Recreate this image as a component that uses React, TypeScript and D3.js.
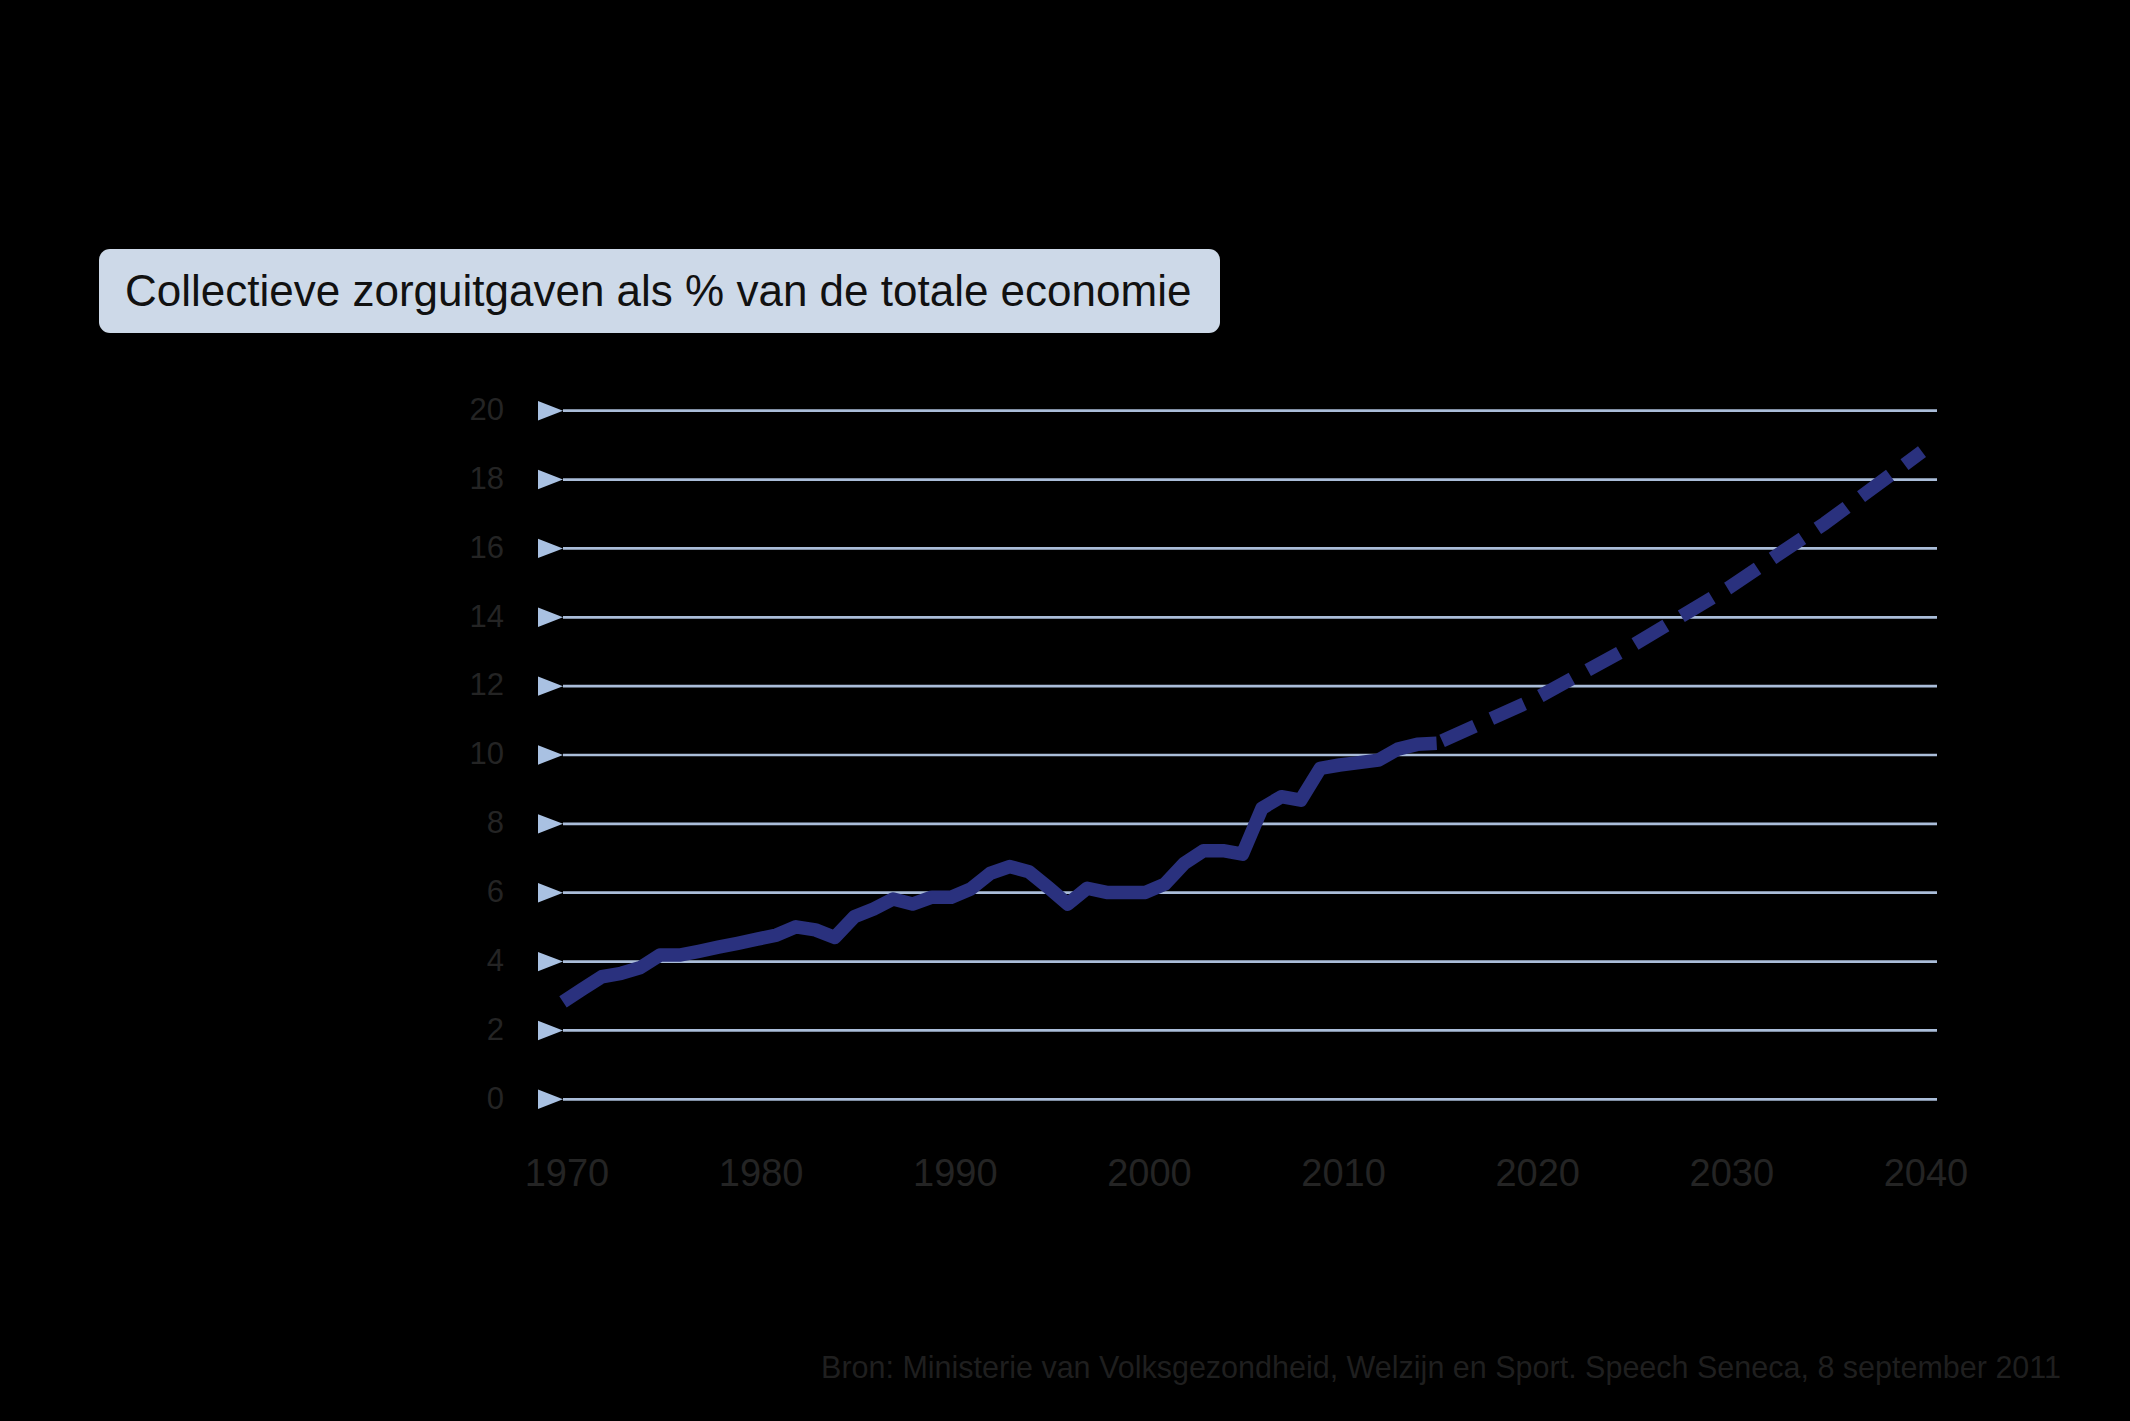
import React from "react";
import * as d3 from "d3";

const TITLE = "Collectieve zorguitgaven als % van de totale economie";
const SOURCE = "Bron: Ministerie van Volksgezondheid, Welzijn en Sport. Speech Seneca, 8 september 2011";

const histYears = [1970,1971,1972,1973,1974,1975,1976,1977,1978,1979,1980,1981,1982,1983,1984,1985,1986,1987,1988,1989,1990,1991,1992,1993,1994,1995,1996,1997,1998,1999,2000,2001,2002,2003,2004,2005,2006,2007,2008,2009,2010,2011,2012,2013,2014,2015];
const histValues = [2.83,3.2,3.56,3.66,3.83,4.19,4.19,4.3,4.42,4.53,4.65,4.77,5.01,4.92,4.7,5.3,5.53,5.82,5.67,5.87,5.87,6.11,6.56,6.76,6.61,6.15,5.67,6.13,6.01,6.01,6.01,6.25,6.85,7.22,7.22,7.12,8.45,8.79,8.69,9.61,9.71,9.78,9.85,10.17,10.31,10.34];

const projYears = [2015,2020,2025,2030,2035,2040];
const projValues = [10.34,11.61,13.15,14.84,16.73,18.81];

const yTicks = [0,2,4,6,8,10,12,14,16,18,20];
const xTicks = [1970,1980,1990,2000,2010,2020,2030,2040];

const W = 2130, H = 1421;
const LINE_COLOR = "#2a317e";
const GRID_COLOR = "#aabdd9";
const TRI_COLOR = "#a9c1e2";
const LABEL_COLOR = "#242424";
const FONT = "'Liberation Sans', Arial, Helvetica, sans-serif";

export default function App() {
  const x = d3.scaleLinear().domain([1970, 2040]).range([563, 1922]);
  const y = d3.scaleLinear().domain([0, 20]).range([1099.3, 410.7]);
  const gridX0 = 563, gridX1 = 1937;

  const line = d3.line<[number, number]>().x(d => x(d[0])).y(d => y(d[1]));
  const hist = line(histYears.map((yr, i) => [yr, histValues[i]] as [number, number])) || "";
  const proj = line(projYears.map((yr, i) => [yr, projValues[i]] as [number, number])) || "";

  return (
    <svg width={W} height={H} style={{ position: "absolute", left: 0, top: 0, display: "block" }} fontFamily={FONT}>
      <rect x={0} y={0} width={W} height={H} fill="#000" />
      {/* title box */}
      <rect x={99} y={249} width={1121} height={84} rx={11} ry={11} fill="#cdd9e8" />
      <text x={125} y={306} fontSize={44} fill="#111">{TITLE}</text>

      {/* gridlines and markers */}
      {yTicks.map(t => (
        <g key={t}>
          <line x1={gridX0} x2={gridX1} y1={y(t)} y2={y(t)} stroke={GRID_COLOR} strokeWidth={2.7} />
          <path d={`M${gridX0 - 25},${y(t) - 9.7}L${gridX0},${y(t)}L${gridX0 - 25},${y(t) + 9.7}Z`} fill={TRI_COLOR} />
          <text x={504} y={y(t)} dy="0.3em" textAnchor="end" fontSize={31} fill={LABEL_COLOR}>{t}</text>
        </g>
      ))}

      {/* x labels */}
      {xTicks.map(t => (
        <text key={t} x={x(t) + 4} y={1186} textAnchor="middle" fontSize={38} fill={LABEL_COLOR}>{t}</text>
      ))}

      {/* data lines */}
      <path d={hist} fill="none" stroke={LINE_COLOR} strokeWidth={13.5} strokeLinejoin="round" strokeLinecap="butt" />
      <path d={proj} fill="none" stroke={LINE_COLOR} strokeWidth={13.5} strokeLinejoin="round" strokeLinecap="butt"
        strokeDasharray="36 18" strokeDashoffset={48} />

      {/* source */}
      <text x={2061} y={1378} textAnchor="end" fontSize={30.5} fill="#1f1f1f">{SOURCE}</text>
    </svg>
  );
}
